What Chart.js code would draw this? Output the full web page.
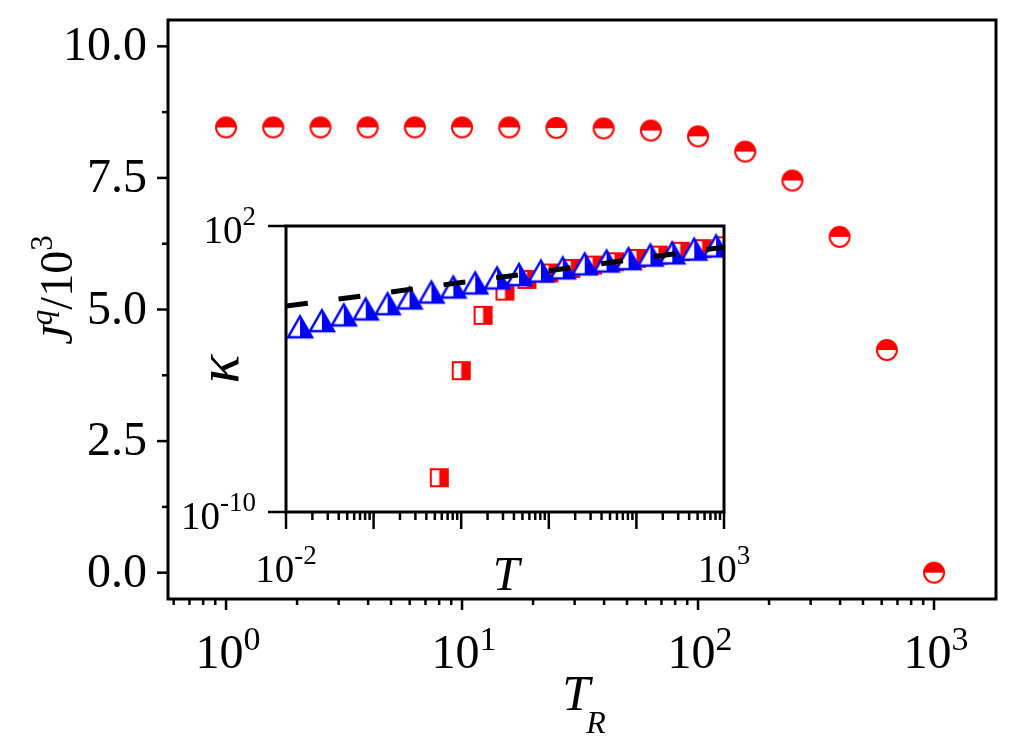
<!DOCTYPE html>
<html>
<head>
<meta charset="utf-8">
<script src="https://cdn.jsdelivr.net/npm/chart.js@4.4.0/dist/chart.umd.min.js"></script>
<style>
  html, body { margin: 0; padding: 0; background: #fff; }
  #wrap { position: relative; width: 1026px; height: 737px; }
  #main { position: absolute; left: 0; top: 0; }
  #inset { position: absolute; left: 172px; top: 200px; }
</style>
</head>
<body>
<div id="wrap">
  <canvas id="main" width="1026" height="737"></canvas>
  <canvas id="inset" width="590" height="396"></canvas>
</div>
<script>
// dados do gráfico principal
const trValues = [1, 1.585, 2.512, 3.981, 6.31, 10, 15.85, 25.12, 39.81, 63.1, 100, 158.5, 251.2, 398.1, 631, 1000];
const jqValues = [8.46, 8.46, 8.46, 8.46, 8.46, 8.46, 8.46, 8.45, 8.44, 8.40, 8.29, 8.0, 7.45, 6.38, 4.23, 0.0];

const mainYTicks = [0, 2.5, 5, 7.5, 10];
const mainYLabels = ['0.0', '2.5', '5.0', '7.5', '10.0'];
const mainYMinor = [1.25, 3.75, 6.25, 8.75];
const mainXTicks = [1, 10, 100, 1000];
const mainXExp = ['0', '1', '2', '3'];

// dados do gráfico interno (inset)
const triT = [0.00813, 0.01445, 0.0257, 0.0457, 0.0813, 0.1445, 0.257, 0.457, 0.813, 1.445, 2.57,
              4.57, 8.13, 14.45, 25.7, 45.7, 81.3, 144.5, 257, 457, 813];
const triK = [0.00355, 0.00589, 0.0107, 0.0186, 0.0331, 0.055, 0.0955, 0.17, 0.275, 0.407, 0.661,
              0.912, 1.29, 1.74, 2.57, 3.39, 4.27, 6.03, 7.41, 10.7, 14.5];
const sqT = [0.562, 1, 1.778, 3.162, 5.623, 10, 17.78, 31.62, 56.23, 100, 177.8, 316.2, 562.3, 1000];
const sqK = [2.75e-9, 8.5e-5, 0.0178, 0.186, 0.575, 1.07, 1.66, 2.29, 3.16, 4.37, 6.03, 8.71, 11.2, 14.8];
const fitT = [0.01, 0.1, 1, 10, 100, 1000];
const fitK = [0.0437, 0.135, 0.427, 1.32, 4.17, 12.9];

const insetXTicks = [0.01, 0.1, 1, 10, 100, 1000];
const insetXExp = ['-2', '', '', '', '', '3'];
const insetYTicks = [1e-10, 1e2];
const insetYExp = ['-10', '2'];

const FONT = '"Liberation Serif", "Times New Roman", serif';
const RED = '#ff0000';
const BLUE = '#0000ff';

// marcadores meio preenchidos
function halfCircle(r, color) {
  const c = document.createElement('canvas');
  c.width = c.height = 2 * r + 6;
  const g = c.getContext('2d');
  const m = c.width / 2;
  g.beginPath(); g.arc(m, m, r, 0, 2 * Math.PI); g.fillStyle = '#fff'; g.fill();
  g.beginPath(); g.arc(m, m, r, Math.PI, 2 * Math.PI); g.closePath(); g.fillStyle = color; g.fill();
  g.beginPath(); g.arc(m, m, r, 0, 2 * Math.PI); g.lineWidth = 2; g.strokeStyle = color; g.stroke();
  return c;
}

function halfTriangle(w, h, color) {
  const c = document.createElement('canvas');
  c.width = w + 6; c.height = h + 6;
  const g = c.getContext('2d');
  const cx = c.width / 2, top = 3, bot = 3 + h, l = 3, r = 3 + w;
  g.beginPath(); g.moveTo(cx, top); g.lineTo(r, bot); g.lineTo(l, bot); g.closePath();
  g.fillStyle = '#fff'; g.fill();
  g.beginPath(); g.moveTo(cx, top); g.lineTo(r, bot); g.lineTo(cx, bot); g.closePath();
  g.fillStyle = color; g.fill();
  g.beginPath(); g.moveTo(cx, top); g.lineTo(r, bot); g.lineTo(l, bot); g.closePath();
  g.lineWidth = 2.5; g.strokeStyle = color; g.stroke();
  return c;
}

function halfSquare(s, color) {
  const c = document.createElement('canvas');
  c.width = c.height = s + 4;
  const g = c.getContext('2d');
  g.fillStyle = '#fff'; g.fillRect(2, 2, s, s);
  g.fillStyle = color; g.fillRect(2 + s / 2, 2, s / 2, s);
  g.lineWidth = 2; g.strokeStyle = color; g.strokeRect(2, 2, s, s);
  return c;
}

// texto com expoentes / índices
function rich(c, parts, x, y, align) {
  let w = 0;
  parts.forEach(p => {
    c.font = (p.it ? 'italic ' : '') + p.sz + 'px ' + FONT;
    p.w = c.measureText(p.t).width + (p.dx || 0);
    w += p.w;
  });
  let cx = align === 'center' ? x - w / 2 : align === 'right' ? x - w : x;
  c.textAlign = 'left';
  c.textBaseline = 'alphabetic';
  c.fillStyle = '#000';
  parts.forEach(p => {
    c.font = (p.it ? 'italic ' : '') + p.sz + 'px ' + FONT;
    c.fillText(p.t, cx + (p.dx || 0), y - (p.up || 0));
    cx += p.w;
  });
}

function line(c, x1, y1, x2, y2) {
  c.beginPath(); c.moveTo(x1, y1); c.lineTo(x2, y2); c.stroke();
}

function logMinors(min, max) {
  const out = [];
  for (let d = 1e-3; d <= 1e4; d *= 10) {
    for (let k = 2; k <= 9; k++) {
      const v = k * d;
      if (v >= min * 0.999 && v <= max * 1.001) out.push(v);
    }
  }
  return out;
}

const mainAxes = {
  id: 'mainAxes',
  afterDraw(chart) {
    const c = chart.ctx, a = chart.chartArea, xs = chart.scales.x, ys = chart.scales.y;
    c.save();
    c.strokeStyle = '#000';
    c.lineWidth = 3;
    c.strokeRect(a.left, a.top, a.right - a.left, a.bottom - a.top);
    c.lineWidth = 2.5;
    mainYTicks.forEach((v, i) => {
      const py = ys.getPixelForValue(v);
      line(c, a.left, py, a.left - 11, py);
      c.font = '48px ' + FONT; c.textAlign = 'right'; c.textBaseline = 'alphabetic'; c.fillStyle = '#000';
      c.fillText(mainYLabels[i], a.left - 21, py + 14);
    });
    mainYMinor.forEach(v => {
      const py = ys.getPixelForValue(v);
      line(c, a.left, py, a.left - 6, py);
    });
    mainXTicks.forEach((v, i) => {
      const px = xs.getPixelForValue(v);
      line(c, px, a.bottom, px, a.bottom + 11);
      rich(c, [{ t: '10', sz: 48 }, { t: mainXExp[i], sz: 34, up: 18 }], px + 2, a.bottom + 69, 'center');
    });
    logMinors(xs.min, xs.max).forEach(v => {
      const px = xs.getPixelForValue(v);
      line(c, px, a.bottom, px, a.bottom + 6);
    });
    // títulos dos eixos
    rich(c, [{ t: 'T', sz: 50, it: true }, { t: 'R', sz: 32, it: true, up: -23, dx: -4 }], 584, 710, 'center');
    c.translate(72, 290);
    c.rotate(-Math.PI / 2);
    rich(c, [{ t: 'J', sz: 44, it: true }, { t: 'q', sz: 31, it: true, up: 20 }, { t: '/10', sz: 46 }, { t: '3', sz: 31, up: 20 }], 0, 0, 'center');
    c.restore();
  }
};

const insetAxes = {
  id: 'insetAxes',
  afterDraw(chart) {
    const c = chart.ctx, a = chart.chartArea, xs = chart.scales.x, ys = chart.scales.y;
    c.save();
    c.strokeStyle = '#000';
    c.lineWidth = 3;
    c.strokeRect(a.left, a.top, a.right - a.left, a.bottom - a.top);
    c.lineWidth = 2.5;
    insetYTicks.forEach((v, i) => {
      const py = ys.getPixelForValue(v);
      line(c, a.left, py, a.left - 18, py);
      rich(c, [{ t: '10', sz: 39 }, { t: insetYExp[i], sz: 27, up: 18 }], a.left - 30, py + 17, 'right');
    });
    insetXTicks.forEach((v, i) => {
      const px = xs.getPixelForValue(v);
      line(c, px, a.bottom, px, a.bottom + 17);
      if (insetXExp[i]) rich(c, [{ t: '10', sz: 39 }, { t: insetXExp[i], sz: 27, up: 18 }], px, a.bottom + 70, 'center');
    });
    logMinors(xs.min, xs.max).forEach(v => {
      const px = xs.getPixelForValue(v);
      line(c, px, a.bottom, px, a.bottom + 8);
    });
    rich(c, [{ t: 'T', sz: 48, it: true }], 506 - 172, 590 - 200, 'center');
    c.translate(238 - 172, 369 - 200);
    c.rotate(-Math.PI / 2);
    rich(c, [{ t: 'κ', sz: 60, it: true }], 0, 0, 'center');
    c.restore();
  }
};

const baseOpts = {
  responsive: false,
  animation: false,
  events: [],
  plugins: { legend: { display: false }, tooltip: { enabled: false } }
};

new Chart(document.getElementById('main'), {
  type: 'scatter',
  data: {
    datasets: [{
      data: trValues.map((t, i) => ({ x: t, y: jqValues[i] })),
      pointStyle: halfCircle(10, RED),
      showLine: false
    }]
  },
  options: Object.assign({}, baseOpts, {
    layout: { padding: { top: 20, right: 30, left: 0, bottom: 0 } },
    scales: {
      x: {
        type: 'logarithmic', min: 0.5676, max: 1831,
        grid: { display: false }, border: { display: false }, ticks: { display: false },
        afterFit: s => { s.height = 737 - 599; }
      },
      y: {
        type: 'linear', min: -0.5, max: 10.5,
        grid: { display: false }, border: { display: false }, ticks: { display: false },
        afterFit: s => { s.width = 168; }
      }
    }
  }),
  plugins: [mainAxes]
});

new Chart(document.getElementById('inset'), {
  type: 'scatter',
  data: {
    datasets: [
      {
        data: fitT.map((t, i) => ({ x: t, y: fitK[i] })),
        showLine: true, borderColor: '#000', borderWidth: 5, borderDash: [22, 31],
        pointRadius: 0, fill: false
      },
      {
        data: triT.map((t, i) => ({ x: t, y: triK[i] })),
        pointStyle: halfTriangle(24, 21, BLUE), showLine: false
      },
      {
        data: sqT.map((t, i) => ({ x: t, y: sqK[i] })),
        pointStyle: halfSquare(17, RED), showLine: false
      }
    ]
  },
  options: Object.assign({}, baseOpts, {
    layout: { padding: { top: 26, right: 38, left: 0, bottom: 0 } },
    scales: {
      x: {
        type: 'logarithmic', min: 0.01, max: 1000,
        grid: { display: false }, border: { display: false }, ticks: { display: false },
        afterFit: s => { s.height = 396 - 312; }
      },
      y: {
        type: 'logarithmic', min: 1e-10, max: 1e2,
        grid: { display: false }, border: { display: false }, ticks: { display: false },
        afterFit: s => { s.width = 114; }
      }
    }
  }),
  plugins: [insetAxes]
});
</script>
</body>
</html>
